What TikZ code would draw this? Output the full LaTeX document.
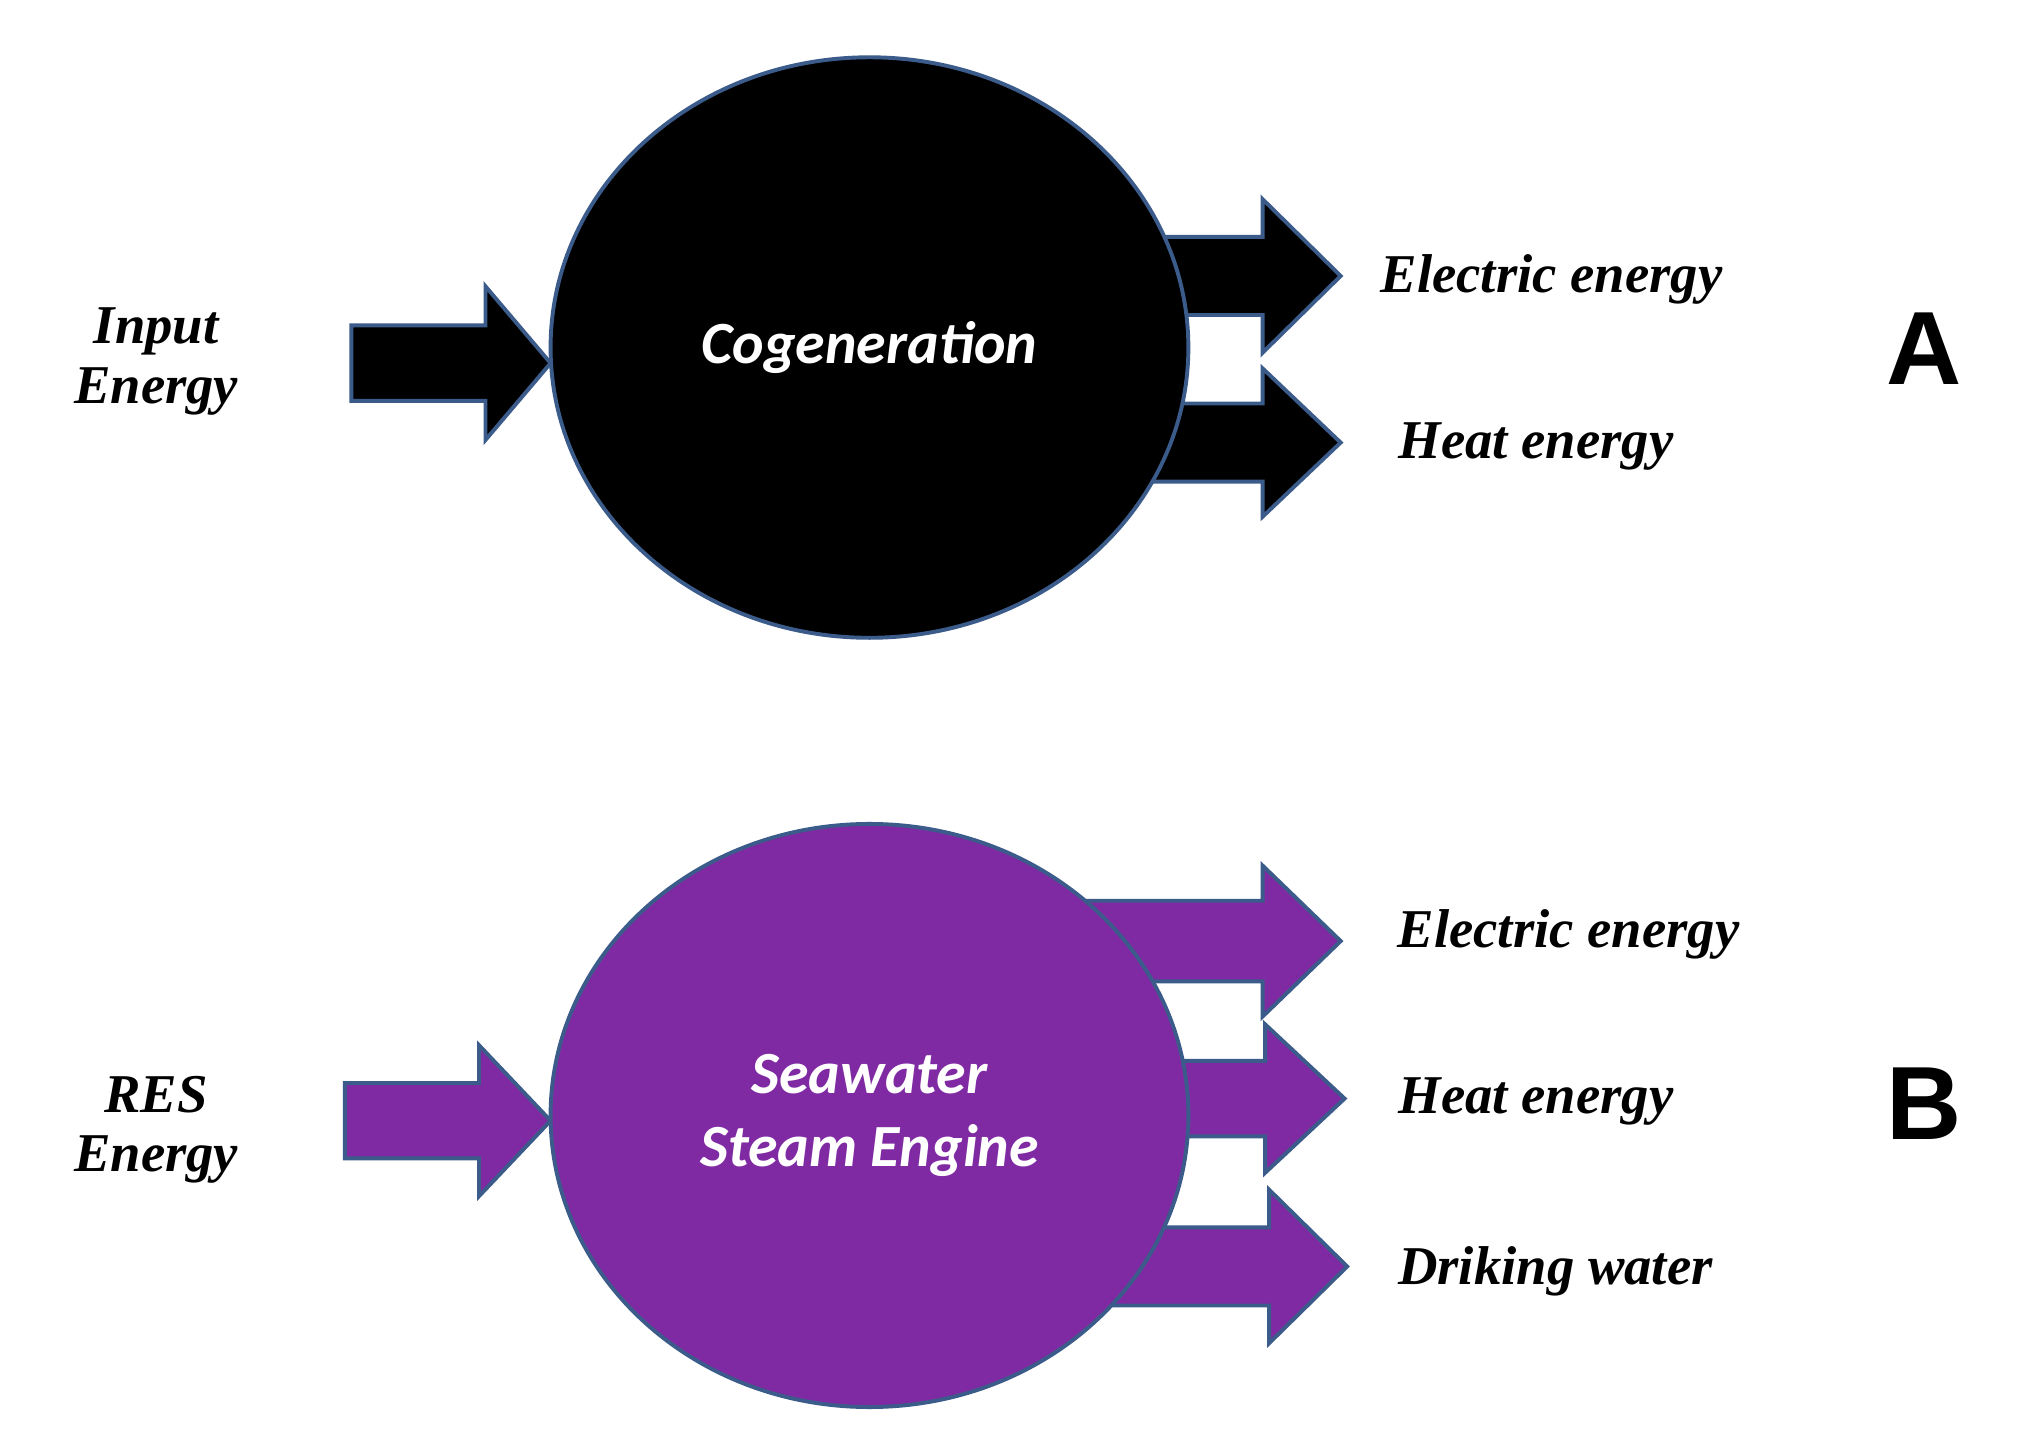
\documentclass[tikz,border=0pt]{standalone}
\usetikzlibrary{shapes.geometric}
\usepackage{fontspec}
\setmainfont{Liberation Serif}
\newfontfamily\calib{Carlito}
\newfontfamily\arl{Liberation Sans}
\definecolor{purp}{HTML}{7F2AA3}
\definecolor{edge}{HTML}{3B5B8A}
\begin{document}
\begin{tikzpicture}[x=1pt,y=-1pt,
  blk/.style={draw=edge,line width=3pt,line join=miter},
  lab/.style={font=\fontsize{42}{46}\selectfont\bfseries\itshape,align=center},
  big/.style={font=\fontsize{80}{80}\selectfont\arl\bfseries},
  ctext/.style={font=\fontsize{46}{56}\selectfont\calib\bfseries\itshape,text=white,align=center}]
\useasboundingbox (0,0) rectangle (1555,1112);
\newcommand\blockarrow[7]{\path[blk,fill=#7] (#1,#4-#5) -- (#2,#4-#5) -- (#2,#4-#6) -- (#3,#4) -- (#2,#4+#6) -- (#2,#4+#5) -- (#1,#4+#5) -- cycle;}
% A
\blockarrow{270}{373}{423}{279}{29}{59}{black}
\blockarrow{800}{970}{1030}{212}{30}{59}{black}
\blockarrow{800}{970}{1030}{340}{30}{57}{black}
\node[ellipse,draw=edge,line width=3pt,fill=black,minimum width=490,minimum height=446,inner sep=0] (c1) at (668,267) {};
\node[ctext] (t1) at (668,267) {Cogeneration};
\node[lab] (in1) at (120,278) {Input\\Energy};
\node[lab] (e1) at (1192,215) {Electric energy};
\node[lab] (h1) at (1180,343) {Heat energy};
\node[big] (A) at (1478,268) {A};
% B
\blockarrow{265}{368}{423}{861}{29}{58}{purp}
\blockarrow{780}{970}{1030}{723}{31}{58}{purp}
\blockarrow{800}{972}{1033}{844}{29}{57}{purp}
\blockarrow{800}{975}{1035}{973}{30}{59}{purp}
\node[ellipse,draw=edge,line width=3pt,fill=purp,minimum width=490,minimum height=448,inner sep=0] (c2) at (668,857) {};
\node[ctext] (t2) at (668,857) {Seawater\\Steam Engine};
\node[lab] (in2) at (120,868) {RES\\Energy};
\node[lab] (e2) at (1205,718) {Electric energy};
\node[lab] (h2) at (1180,846) {Heat energy};
\node[lab] (d2) at (1195,977) {Driking water};
\node[big] (B) at (1478,848) {B};
\end{tikzpicture}
\end{document}
